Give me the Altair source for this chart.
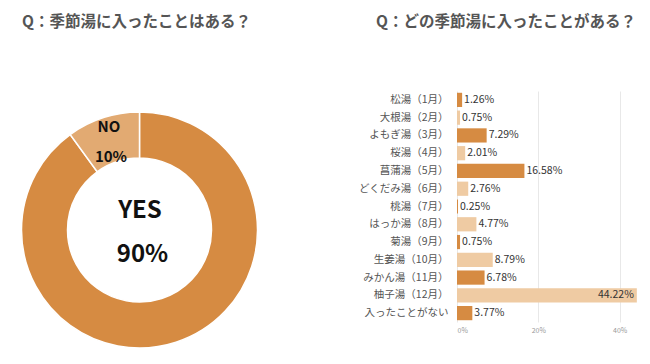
import altair as alt
import pandas as pd

# ---- data ----
titles = ["Q：季節湯に入ったことはある？", "Q：どの季節湯に入ったことがある？"]

pie_labels = ["YES", "NO"]
pie_values = [90, 10]

categories = ["松湯（1月）", "大根湯（2月）", "よもぎ湯（3月）", "桜湯（4月）", "菖蒲湯（5月）",
              "どくだみ湯（6月）", "桃湯（7月）", "はっか湯（8月）", "菊湯（9月）", "生姜湯（10月）",
              "みかん湯（11月）", "柚子湯（12月）", "入ったことがない"]
values = [1.26, 0.75, 7.29, 2.01, 16.58, 2.76, 0.25, 4.77, 0.75, 8.79, 6.78, 44.22, 3.77]
shades = ["dark", "light", "dark", "light", "dark", "light", "dark", "light", "dark", "light",
          "dark", "light", "dark"]
x_ticks = [0, 20, 40]

# ---- styles ----
FONT = "Noto Sans CJK JP"
DARK = "#D68B42"
LIGHT = "#EFCBA3"
NO_COL = "#E2AA72"

bars_df = pd.DataFrame({
    "cat": categories,
    "value": values,
    "shade": shades,
    "label": [f"{v:.2f}%" for v in values],
})
pie_df = pd.DataFrame({
    "ans": pie_labels,
    "value": pie_values,
    "order": list(range(len(pie_labels))),
    "pct": [f"{v}%" for v in pie_values],
})
title_df = pd.DataFrame({"t": titles, "i": [0, 1]})

color_scale = alt.Scale(domain=["dark", "light", "YES", "NO"], range=[DARK, LIGHT, DARK, NO_COL])

y_enc = alt.Y("cat:N", sort=categories, title=None,
              scale=alt.Scale(paddingInner=0.2, paddingOuter=0.1),
              axis=alt.Axis(labelFont=FONT, labelFontSize=10.5, labelColor="#555555",
                            ticks=False, domain=False, labelPadding=9, labelLimit=300))
x_enc = alt.X("value:Q", title=None, scale=alt.Scale(domain=[0, 45], nice=False),
              axis=alt.Axis(values=x_ticks, labelExpr="datum.value + '%'", labelFontSize=7,
                            labelColor="#999999", ticks=False, domain=False, grid=True,
                            gridColor="#E8E8E8", labelPadding=4, labelFont=FONT))

bars = alt.Chart(bars_df).mark_bar().encode(
    x=x_enc, y=y_enc,
    color=alt.Color("shade:N", scale=color_scale, legend=None),
)

labels_out = alt.Chart(bars_df).transform_filter("datum.value < 40").mark_text(
    align="left", baseline="middle", dx=2, font=FONT, fontSize=10.5, color="#333333"
).encode(x="value:Q", y=alt.Y("cat:N", sort=categories), text="label:N")

labels_in = alt.Chart(bars_df).transform_filter("datum.value >= 40").mark_text(
    align="right", baseline="middle", dx=-3, font=FONT, fontSize=10.5, color="#333333"
).encode(x="value:Q", y=alt.Y("cat:N", sort=categories), text="label:N")

CX = 139.5 - 457
CY = 230 - 91

donut = alt.Chart(pie_df).mark_arc(radius=118, radius2=72, stroke="white", strokeWidth=1.5).encode(
    theta=alt.Theta("value:Q", stack=True),
    order=alt.Order("order:Q"),
    color=alt.Color("ans:N", scale=color_scale, legend=None),
    x=alt.value(CX), y=alt.value(CY),
)

yes_t = alt.Chart(pie_df).transform_filter("datum.ans == 'YES'").mark_text(
    font=FONT, fontSize=24, fontWeight="bold", color="#111111", align="center", baseline="middle"
).encode(text="ans:N", x=alt.value(CX + 0.5), y=alt.value(211 - 91))
yes_p = alt.Chart(pie_df).transform_filter("datum.ans == 'YES'").mark_text(
    font=FONT, fontSize=24, fontWeight="bold", color="#111111", align="center", baseline="middle"
).encode(text="pct:N", x=alt.value(CX + 3), y=alt.value(255 - 91))
no_t = alt.Chart(pie_df).transform_filter("datum.ans == 'NO'").mark_text(
    font=FONT, fontSize=15, fontWeight="bold", color="#111111", align="center", baseline="middle"
).encode(text="ans:N", x=alt.value(109 - 457), y=alt.value(127 - 91))
no_p = alt.Chart(pie_df).transform_filter("datum.ans == 'NO'").mark_text(
    font=FONT, fontSize=15, fontWeight="bold", color="#111111", align="center", baseline="middle"
).encode(text="pct:N", x=alt.value(111 - 457), y=alt.value(157 - 91))

t1 = alt.Chart(title_df).transform_filter("datum.i == 0").mark_text(
    font=FONT, fontSize=15.5, fontWeight="bold", color="#555555", align="left", baseline="middle"
).encode(text="t:N", x=alt.value(22 - 457), y=alt.value(22 - 91))
t2 = alt.Chart(title_df).transform_filter("datum.i == 1").mark_text(
    font=FONT, fontSize=15.5, fontWeight="bold", color="#555555", align="left", baseline="middle"
).encode(text="t:N", x=alt.value(376 - 457), y=alt.value(21.5 - 91))

chart = alt.layer(bars, labels_out, labels_in, donut, yes_t, yes_p, no_t, no_p, t1, t2).properties(
    width=183, height=231,
    autosize=alt.AutoSizeParams(type="none"),
    padding={"left": 449, "top": 83, "right": 0, "bottom": 30},
    background="white",
).configure_view(stroke=None)

chart.save("out.html", embed_options={"renderer": "svg", "actions": False})
